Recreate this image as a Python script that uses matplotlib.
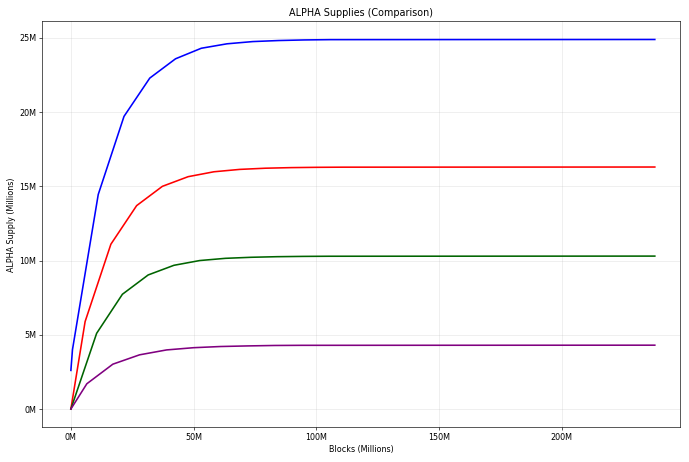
import numpy as np
import matplotlib
matplotlib.use('Agg')
import matplotlib.pyplot as plt
from matplotlib.ticker import FuncFormatter

# Supply curves, blocks and supply both in millions
blocks_blue = [0, 0.65, 11.15, 21.65, 32.15, 42.65, 53.15, 63.65, 74.15, 84.65, 95.15, 105.65, 238.0]
supply_blue = [2.60, 4.00, 14.45, 19.71, 22.29, 23.59, 24.30, 24.60, 24.75, 24.82, 24.86, 24.88, 24.89]

blocks_red = [0, 5.8, 16.3, 26.8, 37.3, 47.8, 58.3, 68.8, 79.3, 89.8, 100.3, 110.8, 238.0]
supply_red = [0, 5.89, 11.10, 13.70, 15.00, 15.65, 15.98, 16.14, 16.22, 16.26, 16.28, 16.29, 16.30]

blocks_green = [0, 10.5, 21.0, 31.5, 42.0, 52.5, 63.0, 73.5, 84.0, 94.5, 105.0, 238.0]
supply_green = [0, 5.10, 7.73, 9.03, 9.68, 10.00, 10.15, 10.22, 10.26, 10.28, 10.29, 10.30]

blocks_purple = [0, 6.5, 17.1, 28.0, 39.0, 50.0, 61.0, 72.0, 83.0, 94.0, 238.0]
supply_purple = [0, 1.70, 3.02, 3.65, 3.98, 4.13, 4.21, 4.25, 4.28, 4.29, 4.30]

fig, ax = plt.subplots(figsize=(12, 8.046), dpi=57.42)

ax.plot(blocks_blue, supply_blue, color='blue', linewidth=2)
ax.plot(blocks_red, supply_red, color='red', linewidth=2)
ax.plot(blocks_green, supply_green, color='darkgreen', linewidth=2)
ax.plot(blocks_purple, supply_purple, color='purple', linewidth=2)

fmt = FuncFormatter(lambda v, pos: f'{v:.0f}M')
ax.xaxis.set_major_formatter(fmt)
ax.yaxis.set_major_formatter(fmt)
ax.set_xlim(-11.9, 248.3)

ax.set_xlabel('Blocks (Millions)')
ax.set_ylabel('ALPHA Supply (Millions)')
ax.set_title('ALPHA Supplies (Comparison)')
ax.grid(True, alpha=0.3)

plt.subplots_adjust(left=0.0605, right=0.987, top=0.9545, bottom=0.0747)
plt.savefig('out.png')
